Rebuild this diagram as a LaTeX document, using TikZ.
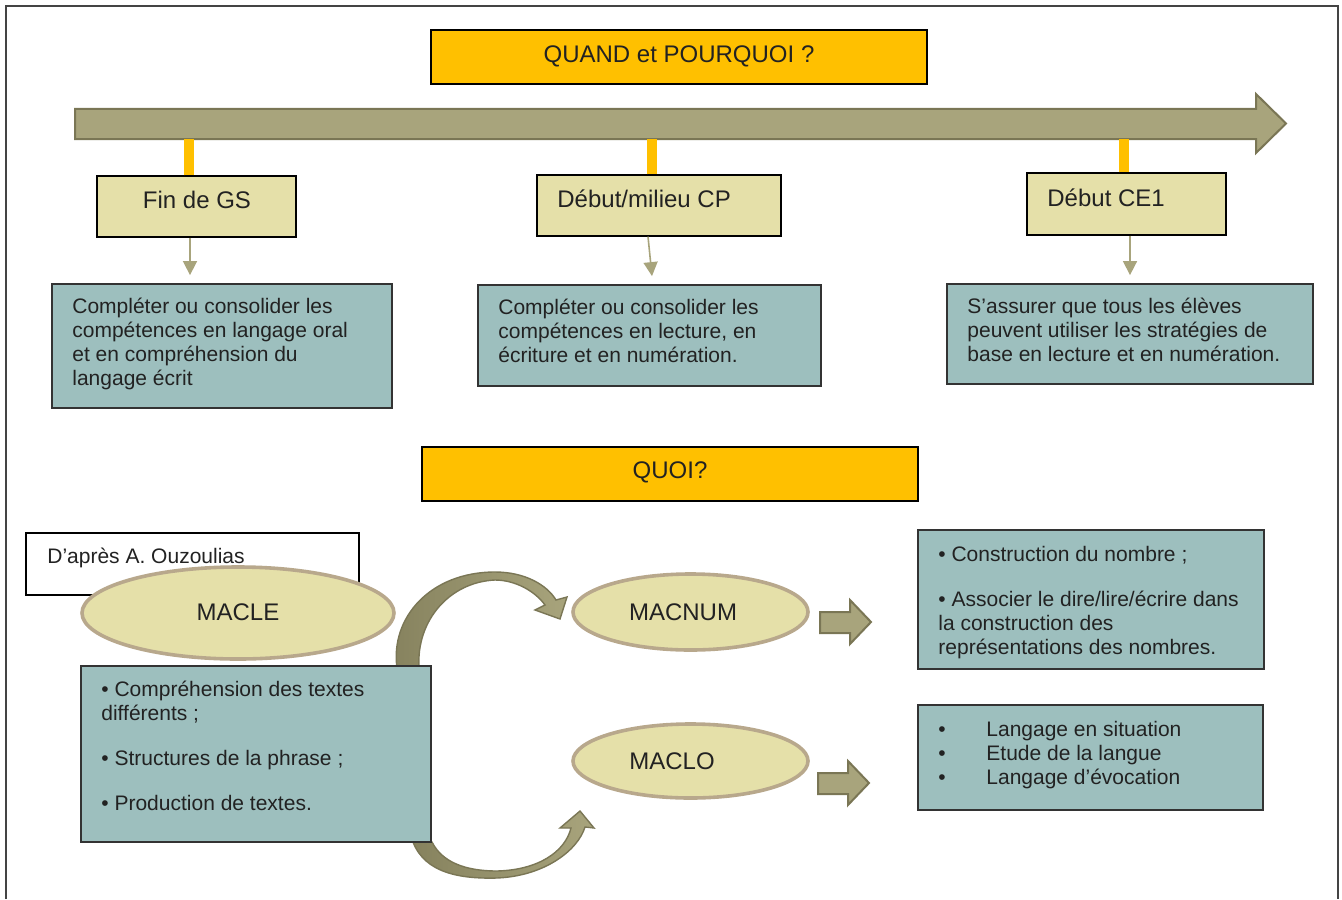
\documentclass[tikz,border=0pt]{standalone}
\usepackage{fontspec}
\setmainfont{Liberation Sans}
\usetikzlibrary{arrows.meta,shapes.geometric,calc}
\definecolor{orng}{HTML}{FFC000}
\definecolor{khaki}{HTML}{E5E0A9}
\definecolor{teal}{HTML}{9DBFBE}
\definecolor{arrfill}{HTML}{A8A47C}
\definecolor{arrdark}{HTML}{7A7655}
\definecolor{arrshade}{HTML}{86825E}
\definecolor{ellline}{HTML}{B8A88C}
\definecolor{txt}{HTML}{222222}
\definecolor{frm}{HTML}{444444}
\begin{document}
\begin{tikzpicture}[x=0.5pt,y=-0.5pt,
  obox/.style={draw=black,line width=0.7pt,fill=orng,inner sep=0pt},
  lbox/.style={draw=black,line width=0.7pt,fill=khaki,inner sep=0pt},
  tbox/.style={draw=black!80,line width=0.9pt,fill=teal,inner sep=0pt},
  wbox/.style={draw=black,line width=0.7pt,fill=white,inner sep=0pt},
  ell/.style={ellipse,draw=ellline,line width=1.8pt,fill=khaki,inner sep=0pt},
  big/.style={font=\fontsize{12}{14}\selectfont,text=txt,inner sep=0pt},
  small/.style={font=\fontsize{10.5}{12}\selectfont,text=txt,inner sep=0pt,align=left,anchor=base west},
  thinarrow/.style={draw=arrfill,line width=0.8pt,-{Triangle[width=7pt,length=7pt]}},
  orangeline/.style={draw=orng,line width=5pt},
  blockarrow/.style={fill=arrfill,draw=arrdark,line width=1pt,line join=miter},
  curvearrow/.style={left color=arrshade,right color=arrfill,draw=arrdark,line width=0.7pt}
]
\useasboundingbox (0,0) rectangle (1342,899);
% frame
\draw[frm,line width=0.8pt] (6,899) -- (6,6) -- (1338,6) -- (1338,899);

% top title
\node[obox,minimum width=248pt,minimum height=27pt] (quand) at (679,57) {};
\node[big,anchor=base] (quandt) at (679,63) {QUAND et POURQUOI ?};

% big timeline arrow
\coordinate (tl) at (0,139);
\draw[blockarrow] (75,109) -- (1256,109) -- (1256,94) -- (1286,123.5) -- (1256,153) -- (1256,139) -- (75,139) -- cycle;

% label boxes
\node[lbox,minimum width=99.5pt,minimum height=30.5pt] (fin) at (196.5,206.5) {};
\node[big,anchor=base] (fint) at (197,208) {Fin de GS};
\node[lbox,minimum width=122pt,minimum height=30.5pt] (cp) at (659,205.5) {};
\node[big,anchor=base west] (cpt) at (557,207) {Début/milieu CP};
\node[lbox,minimum width=99.5pt,minimum height=31pt] (ce) at (1126.5,204) {};
\node[big,anchor=base west] (cet) at (1047,206) {Début CE1};

% orange connectors
\draw[orangeline] ([xshift=-3.75pt]fin.north) -- ([xshift=-3.75pt]fin.north |- tl);
\draw[orangeline] ([xshift=-3.5pt]cp.north) -- ([xshift=-3.5pt]cp.north |- tl);
\draw[orangeline] ([xshift=-1.25pt]ce.north) -- ([xshift=-1.25pt]ce.north |- tl);

% teal boxes top (text anchored at the baseline of its last line)
\node[tbox,minimum width=170pt,minimum height=62pt] (b1) at (222,346) {};
\node[small] (b1t) at (72,385) {Compléter ou consolider les\\compétences en langage oral\\et en compréhension du\\langage écrit};
\node[tbox,minimum width=171.5pt,minimum height=50.5pt] (b2) at (649.5,335.5) {};
\node[small] (b2t) at (498,362) {Compléter ou consolider les\\compétences en lecture, en\\écriture et en numération.};
\node[tbox,minimum width=183pt,minimum height=50pt] (b3) at (1130,334) {};
\node[small] (b3t) at (967,361) {S’assurer que tous les élèves\\peuvent utiliser les stratégies de\\base en lecture et en numération.};

% thin arrows
\draw[thinarrow] ([xshift=-3.25pt]fin.south) -- ([xshift=-16pt,yshift=4pt]b1.north);
\draw[thinarrow] ([xshift=-5.5pt]cp.south) -- ([xshift=1.25pt,yshift=4pt]b2.north);
\draw[thinarrow] ([xshift=1.75pt]ce.south) -- ([yshift=4pt]b3.north);

% QUOI
\node[obox,minimum width=248pt,minimum height=27pt] (quoi) at (670,474) {};
\node[big,anchor=base] (quoit) at (670,478) {QUOI?};

% D'apres box
\node[wbox,minimum width=166.5pt,minimum height=31pt] (dap) at (192.5,564) {};
\node[small] (dapt) at (47,563) {D’après A. Ouzoulias};

% curved arrows (behind the left teal box)
\draw[curvearrow] (397,668) .. controls (390,618) and (430,572) .. (495,572)
   .. controls (525,572) and (547,585) .. (556,600) -- (567,597) -- (560,619) -- (535,610) -- (545,605)
   .. controls (535,591) and (515,580) .. (495,580)
   .. controls (450,582) and (416,620) .. (419,668) -- cycle;
\draw[curvearrow] (413,842) .. controls (425,873) and (460,879) .. (497,878)
   .. controls (545,876) and (578,850) .. (585,827) -- (594,828) -- (580,811) -- (560,828) -- (571,828)
   .. controls (565,852) and (538,870) .. (497,871)
   .. controls (465,871) and (442,862) .. (432,842) -- cycle;

% ellipses
\node[ell,minimum width=156pt,minimum height=46pt] (macle) at (238,613) {};
\node[big,anchor=base] (maclet) at (238,620) {MACLE};
\node[ell,minimum width=117.5pt,minimum height=38pt] (macnum) at (690.5,612) {};
\node[big,anchor=base] (macnumt) at (683,620) {MACNUM};
\node[ell,minimum width=117.5pt,minimum height=37pt] (maclo) at (690.5,761) {};
\node[big,anchor=base] (maclot) at (672,769) {MACLO};

% left teal box
\node[tbox,minimum width=175pt,minimum height=88pt] (lb) at (256,754) {};
\node[small] (lbt) at (101,810.5) {• Compréhension des textes\\différents ;\\[10.5pt]• Structures de la phrase ;\\[10.5pt]• Production de textes.};

% block arrows right
\draw[blockarrow] (820,612) -- (850,612) -- (850,600) -- (871,622) -- (850,644) -- (850,633) -- (820,633) -- cycle;
\draw[blockarrow] (818,773) -- (848,773) -- (848,761) -- (869,783) -- (848,805) -- (848,794) -- (818,794) -- cycle;

% right teal boxes
\node[tbox,minimum width=173pt,minimum height=69.5pt] (r1) at (1091,599.5) {};
\node[small] (r1t) at (938,654.5) {• Construction du nombre ;\\[10.5pt]• Associer le dire/lire/écrire dans\\la construction des\\représentations des nombres.};
\node[tbox,minimum width=172.5pt,minimum height=52.5pt] (r2) at (1090.5,757.5) {};
\node[small] (r2b) at (938,784.5) {•\\•\\•};
\node[small] (r2t) at (986,784.5) {Langage en situation\\Etude de la langue\\Langage d’évocation};
\end{tikzpicture}
\end{document}
